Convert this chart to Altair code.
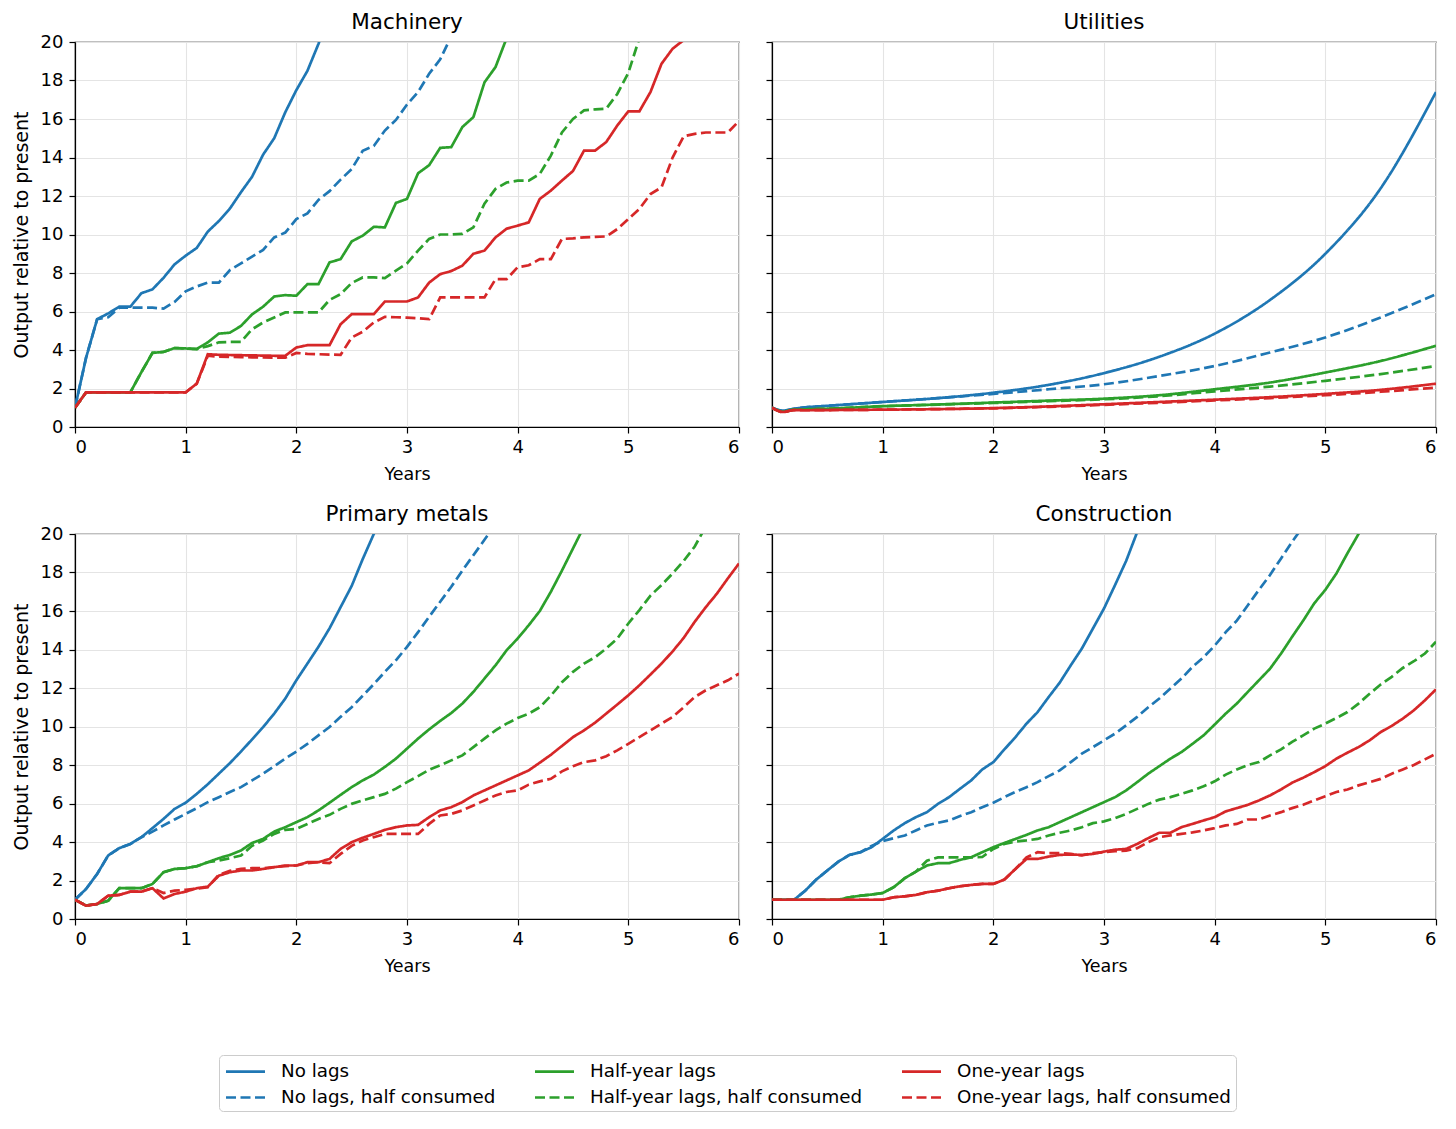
import altair as alt
import pandas as pd

FONT = "DejaVu Sans"

YEARS = [0.0, 0.1, 0.2, 0.3, 0.4, 0.5, 0.6, 0.7, 0.8, 0.9,
         1.0, 1.1, 1.2, 1.3, 1.4, 1.5, 1.6, 1.7, 1.8, 1.9,
         2.0, 2.1, 2.2, 2.3, 2.4, 2.5, 2.6, 2.7, 2.8, 2.9,
         3.0, 3.1, 3.2, 3.3, 3.4, 3.5, 3.6, 3.7, 3.8, 3.9,
         4.0, 4.1, 4.2, 4.3, 4.4, 4.5, 4.6, 4.7, 4.8, 4.9,
         5.0, 5.1, 5.2, 5.3, 5.4, 5.5, 5.6, 5.7, 5.8, 5.9, 6.0]
UTIL_YEARS = [0.0, 0.1, 0.2, 0.3, 0.5, 1.0, 1.5, 2.0, 2.5, 3.0, 3.5, 4.0, 4.5, 5.0, 5.5, 6.0]

PANELS = ["Machinery", "Utilities", "Primary metals", "Construction"]
SERIES = ["No lags", "No lags, half consumed",
          "Half-year lags", "Half-year lags, half consumed",
          "One-year lags", "One-year lags, half consumed"]
COLORS = ["#1f77b4", "#1f77b4", "#2ca02c", "#2ca02c", "#d62728", "#d62728"]
DASHES = [[1, 0], [10, 4.5], [1, 0], [10, 4.5], [1, 0], [10, 4.5]]

# ---- Machinery ----
mach_no = [1.0, 3.6, 5.6, 5.9, 6.25, 6.25, 6.95, 7.15, 7.75, 8.45,
           8.9, 9.3, 10.15, 10.7, 11.35, 12.2, 13.0, 14.15, 15.0, 16.35,
           17.5, 18.5, 19.9, 21.5]
mach_no_h = [1.0, 3.6, 5.6, 5.7, 6.2, 6.2, 6.2, 6.2, 6.15, 6.5,
             7.05, 7.3, 7.5, 7.5, 8.15, 8.5, 8.85, 9.2, 9.85, 10.1,
             10.8, 11.1, 11.8, 12.25, 12.85, 13.4, 14.35, 14.6, 15.4, 15.95,
             16.75, 17.4, 18.35, 19.1, 20.3]
mach_half = [1.0, 1.8, 1.8, 1.8, 1.8, 1.8, 2.85, 3.85, 3.9, 4.1,
             4.08, 4.05, 4.4, 4.85, 4.9, 5.25, 5.85, 6.25, 6.78, 6.85,
             6.82, 7.42, 7.42, 8.55, 8.72, 9.64, 9.94, 10.4, 10.37, 11.64,
             11.85, 13.18, 13.6, 14.5, 14.54, 15.58, 16.1, 17.9, 18.7, 20.2]
mach_half_h = [1.0, 1.8, 1.8, 1.8, 1.8, 1.8, 2.85, 3.85, 3.9, 4.1,
               4.08, 4.05, 4.2, 4.4, 4.42, 4.42, 5.08, 5.43, 5.69, 5.95,
               5.95, 5.95, 5.95, 6.6, 6.9, 7.48, 7.77, 7.77, 7.74, 8.12,
               8.5, 9.16, 9.77, 10.0, 10.0, 10.03, 10.37, 11.6, 12.37, 12.7,
               12.8, 12.8, 13.15, 14.1, 15.3, 16.0, 16.45, 16.5, 16.53, 17.3,
               18.4, 20.2]
mach_one = [1.0, 1.8, 1.8, 1.8, 1.8, 1.8, 1.8, 1.8, 1.8, 1.8,
            1.8, 2.25, 3.78, 3.75, 3.74, 3.73, 3.72, 3.71, 3.7, 3.7,
            4.13, 4.25, 4.25, 4.25, 5.34, 5.86, 5.86, 5.86, 6.52, 6.52,
            6.52, 6.73, 7.5, 7.94, 8.1, 8.38, 9.0, 9.16, 9.85, 10.3,
            10.46, 10.63, 11.85, 12.28, 12.8, 13.3, 14.36, 14.36, 14.8, 15.66,
            16.4, 16.4, 17.4, 18.87, 19.65, 20.1, 20.6]
mach_one_h = [1.0, 1.8, 1.8, 1.8, 1.8, 1.8, 1.8, 1.8, 1.8, 1.8,
              1.8, 2.25, 3.7, 3.65, 3.64, 3.63, 3.62, 3.61, 3.6, 3.6,
              3.85, 3.8, 3.78, 3.76, 3.75, 4.65, 4.95, 5.43, 5.72, 5.7,
              5.68, 5.65, 5.6, 6.73, 6.73, 6.73, 6.73, 6.73, 7.68, 7.68,
              8.3, 8.4, 8.72, 8.72, 9.77, 9.8, 9.85, 9.88, 9.9, 10.28,
              10.8, 11.33, 12.1, 12.45, 14.0, 15.1, 15.23, 15.3, 15.3, 15.3,
              15.9]

# ---- Utilities (sampled at UTIL_YEARS) ----
util_no = [1.0, 0.85, 0.95, 1.02, 1.1, 1.3, 1.5, 1.78, 2.19, 2.8, 3.65, 4.85, 6.6, 9.0, 12.4, 17.4]
util_no_h = [1.0, 0.85, 0.95, 1.02, 1.1, 1.3, 1.5, 1.72, 1.96, 2.22, 2.65, 3.17, 3.87, 4.65, 5.69, 6.9]
util_half = [1.0, 0.8, 0.9, 0.92, 0.95, 1.08, 1.17, 1.27, 1.37, 1.47, 1.65, 1.96, 2.31, 2.83, 3.43, 4.22]
util_half_h = [1.0, 0.8, 0.9, 0.92, 0.95, 1.08, 1.16, 1.25, 1.34, 1.44, 1.6, 1.85, 2.1, 2.4, 2.75, 3.17]
util_one = [1.0, 0.78, 0.88, 0.87, 0.88, 0.9, 0.93, 0.98, 1.07, 1.18, 1.3, 1.42, 1.55, 1.72, 1.93, 2.25]
util_one_h = [1.0, 0.78, 0.88, 0.87, 0.88, 0.9, 0.93, 0.97, 1.05, 1.15, 1.26, 1.38, 1.5, 1.65, 1.83, 2.05]

# ---- Primary metals ----
metal_no = [1.0, 1.56, 2.34, 3.3, 3.68, 3.9, 4.25, 4.72, 5.2, 5.72,
            6.04, 6.5, 7.0, 7.55, 8.1, 8.7, 9.33, 9.97, 10.67, 11.45,
            12.4, 13.27, 14.14, 15.1, 16.2, 17.3, 18.7, 20.0, 21.3]
metal_no_h = [1.0, 1.56, 2.34, 3.3, 3.68, 3.9, 4.25, 4.54, 4.86, 5.17,
              5.46, 5.76, 6.07, 6.33, 6.6, 6.85, 7.2, 7.55, 7.94, 8.33,
              8.7, 9.1, 9.54, 9.97, 10.5, 11.0, 11.6, 12.2, 12.84, 13.44,
              14.14, 14.9, 15.7, 16.48, 17.26, 18.1, 18.9, 19.7, 20.5]
metal_half = [1.0, 0.7, 0.78, 0.95, 1.6, 1.6, 1.6, 1.82, 2.43, 2.6,
              2.64, 2.74, 2.95, 3.16, 3.33, 3.56, 3.95, 4.16, 4.54, 4.77,
              5.03, 5.29, 5.64, 6.04, 6.45, 6.85, 7.2, 7.5, 7.9, 8.33,
              8.85, 9.37, 9.85, 10.29, 10.7, 11.19, 11.8, 12.49, 13.18, 13.96,
              14.57, 15.26, 16.0, 17.0, 18.1, 19.25, 20.4]
metal_half_h = [1.0, 0.7, 0.78, 0.95, 1.6, 1.6, 1.6, 1.82, 2.43, 2.6,
                2.64, 2.74, 2.95, 3.04, 3.16, 3.3, 3.8, 4.08, 4.42, 4.63,
                4.68, 4.94, 5.2, 5.41, 5.72, 5.98, 6.16, 6.33, 6.5, 6.77,
                7.11, 7.42, 7.75, 7.98, 8.24, 8.5, 8.93, 9.37, 9.8, 10.15,
                10.44, 10.67, 11.0, 11.6, 12.3, 12.84, 13.27, 13.6, 14.05, 14.57,
                15.35, 16.05, 16.8, 17.35, 17.95, 18.6, 19.35, 20.4]
metal_one = [1.0, 0.69, 0.78, 1.21, 1.25, 1.42, 1.42, 1.6, 1.07, 1.3,
             1.42, 1.6, 1.68, 2.25, 2.43, 2.52, 2.52, 2.6, 2.69, 2.78,
             2.78, 2.95, 2.95, 3.12, 3.64, 3.99, 4.22, 4.42, 4.63, 4.77,
             4.86, 4.89, 5.29, 5.64, 5.81, 6.07, 6.42, 6.68, 6.94, 7.2,
             7.46, 7.72, 8.12, 8.53, 8.99, 9.45, 9.8, 10.2, 10.67, 11.14,
             11.62, 12.14, 12.7, 13.27, 13.9, 14.6, 15.44, 16.2, 16.9, 17.7,
             18.47]
metal_one_h = [1.0, 0.69, 0.78, 1.21, 1.25, 1.42, 1.42, 1.6, 1.35, 1.47,
               1.52, 1.58, 1.65, 2.3, 2.5, 2.6, 2.64, 2.64, 2.7, 2.75,
               2.78, 2.9, 2.95, 2.9, 3.38, 3.8, 4.08, 4.25, 4.42, 4.42,
               4.42, 4.42, 4.94, 5.38, 5.46, 5.64, 5.9, 6.16, 6.42, 6.6,
               6.68, 6.98, 7.15, 7.28, 7.67, 7.94, 8.15, 8.24, 8.46, 8.76,
               9.1, 9.45, 9.8, 10.15, 10.5, 11.0, 11.53, 11.88, 12.14, 12.4,
               12.75]

# ---- Construction ----
cons_no = [1.0, 1.0, 1.0, 1.47, 2.05, 2.52, 2.98, 3.33, 3.47, 3.73,
           4.16, 4.6, 4.98, 5.29, 5.55, 5.98, 6.33, 6.77, 7.2, 7.77,
           8.15, 8.81, 9.45, 10.15, 10.75, 11.53, 12.28, 13.18, 14.05, 15.09,
           16.13, 17.35, 18.6, 20.1, 21.3]
cons_no_h = [1.0, 1.0, 1.0, 1.47, 2.05, 2.52, 2.98, 3.33, 3.47, 3.8,
             4.05, 4.2, 4.34, 4.6, 4.86, 5.0, 5.12, 5.35, 5.55, 5.81,
             6.04, 6.33, 6.6, 6.85, 7.11, 7.42, 7.72, 8.15, 8.59, 8.93,
             9.28, 9.63, 10.06, 10.5, 11.0, 11.45, 11.97, 12.49, 13.1, 13.6,
             14.2, 14.9, 15.5, 16.3, 17.1, 17.87, 18.73, 19.6, 20.4]
cons_half = [1.0, 1.0, 1.0, 1.0, 1.0, 1.0, 1.0, 1.13, 1.21, 1.27,
             1.35, 1.65, 2.12, 2.46, 2.78, 2.9, 2.9, 3.07, 3.21, 3.47,
             3.73, 3.95, 4.16, 4.37, 4.6, 4.77, 5.03, 5.29, 5.55, 5.81,
             6.07, 6.33, 6.68, 7.11, 7.55, 7.94, 8.33, 8.67, 9.1, 9.54,
             10.1, 10.67, 11.19, 11.8, 12.4, 13.0, 13.79, 14.66, 15.5, 16.4,
             17.1, 17.95, 19.0, 20.0, 21.2]
cons_half_h = [1.0, 1.0, 1.0, 1.0, 1.0, 1.0, 1.0, 1.13, 1.21, 1.27,
               1.35, 1.65, 2.12, 2.46, 3.03, 3.2, 3.2, 3.2, 3.2, 3.22,
               3.64, 3.9, 4.02, 4.08, 4.16, 4.34, 4.48, 4.6, 4.77, 4.98,
               5.07, 5.24, 5.46, 5.72, 5.98, 6.2, 6.33, 6.5, 6.68, 6.9,
               7.15, 7.5, 7.77, 8.0, 8.15, 8.5, 8.81, 9.2, 9.54, 9.89,
               10.15, 10.44, 10.75, 11.19, 11.7, 12.18, 12.58, 13.04, 13.39, 13.79,
               14.4]
cons_one = [1.0, 1.0, 1.0, 1.0, 1.0, 1.0, 1.0, 1.0, 1.0, 1.0,
            1.0, 1.13, 1.18, 1.25, 1.39, 1.47, 1.6, 1.7, 1.77, 1.82,
            1.82, 2.05, 2.6, 3.12, 3.12, 3.24, 3.33, 3.35, 3.33, 3.38,
            3.5, 3.6, 3.64, 3.9, 4.2, 4.48, 4.48, 4.77, 4.94, 5.12,
            5.29, 5.59, 5.76, 5.93, 6.16, 6.42, 6.73, 7.08, 7.34, 7.63,
            7.94, 8.33, 8.64, 8.93, 9.28, 9.71, 10.03, 10.41, 10.84, 11.36,
            11.93]
cons_one_h = [1.0, 1.0, 1.0, 1.0, 1.0, 1.0, 1.0, 1.0, 1.0, 1.0,
              1.0, 1.13, 1.18, 1.25, 1.39, 1.47, 1.6, 1.7, 1.77, 1.82,
              1.82, 2.05, 2.6, 3.2, 3.47, 3.42, 3.42, 3.38, 3.3, 3.42,
              3.47, 3.52, 3.55, 3.68, 3.99, 4.25, 4.34, 4.42, 4.5, 4.6,
              4.72, 4.86, 4.94, 5.17, 5.17, 5.38, 5.55, 5.76, 5.93, 6.16,
              6.38, 6.6, 6.73, 6.94, 7.11, 7.28, 7.55, 7.77, 8.0, 8.29,
              8.59]

PANEL_DATA = {
    "Machinery": (YEARS, [mach_no, mach_no_h, mach_half, mach_half_h, mach_one, mach_one_h]),
    "Utilities": (UTIL_YEARS, [util_no, util_no_h, util_half, util_half_h, util_one, util_one_h]),
    "Primary metals": (YEARS, [metal_no, metal_no_h, metal_half, metal_half_h, metal_one, metal_one_h]),
    "Construction": (YEARS, [cons_no, cons_no_h, cons_half, cons_half_h, cons_one, cons_one_h]),
}

rows = []
for pname in PANELS:
    xs, series_vals = PANEL_DATA[pname]
    for k, (sname, vals) in enumerate(zip(SERIES, series_vals)):
        for i, v in enumerate(vals):
            rows.append({"panel": pname, "series": sname, "draw": k, "year": xs[i], "value": v})
df = pd.DataFrame(rows)

# long horizontal line symbol: path spans [-2, 2] so the stroke is 2*sqrt(size) long
legend_spec = alt.Legend(
    title=None, orient="none", legendX=144, legendY=1013, columns=3,
    symbolType="M-2,0H2", symbolSize=380, symbolStrokeWidth=2.6, symbolOffset=10,
    labelFontSize=18.3, labelFont=FONT, labelColor="black", labelLimit=0,
    columnPadding=33, rowPadding=6, labelOffset=24,
    padding=5, strokeColor="#cccccc", cornerRadius=4, fillColor="white",
)


def panel(name, left, interp):
    if left:
        axis_y = alt.Axis(values=list(range(0, 21, 2)), title="Output relative to present")
    else:
        axis_y = alt.Axis(values=list(range(0, 21, 2)), labels=False, title=None)
    return (
        alt.Chart(df[df.panel == name])
        .mark_line(clip=True, strokeWidth=2.7, interpolate=interp)
        .encode(
            x=alt.X("year:Q", scale=alt.Scale(domain=[0, 6], nice=False),
                    axis=alt.Axis(values=[0, 1, 2, 3, 4, 5, 6], title="Years", format="d")),
            y=alt.Y("value:Q", scale=alt.Scale(domain=[0, 20], nice=False), axis=axis_y),
            color=alt.Color("series:N", scale=alt.Scale(domain=SERIES, range=COLORS), legend=legend_spec),
            strokeDash=alt.StrokeDash("series:N", scale=alt.Scale(domain=SERIES, range=DASHES), legend=legend_spec),
            detail="draw:N",
        )
        .properties(width=664, height=385,
                    title=alt.TitleParams(text=name, offset=0 if left else 8))
    )


top = alt.hconcat(panel("Machinery", True, "linear"), panel("Utilities", False, "monotone"), spacing=23)
bottom = alt.hconcat(panel("Primary metals", True, "linear"), panel("Construction", False, "linear"), spacing=23)

chart = (
    alt.vconcat(top, bottom, spacing=18)
    .properties(padding={"left": 3, "top": 2, "right": 5, "bottom": 5}, background="white")
    .configure_view(stroke="black", strokeWidth=1.2)
    .configure_axis(
        labelFont=FONT, titleFont=FONT, labelFontSize=18, titleFontSize=18,
        titleFontWeight="normal", labelColor="black", titleColor="black",
        domainColor="black", domainWidth=1.2, tickColor="black", tickWidth=1.2, tickSize=6,
        gridColor="#e4e4e4", gridWidth=1.1,
    )
    .configure_axisX(labelPadding=5, titlePadding=9, titleFontSize=17.5)
    .configure_axisY(labelPadding=6, titlePadding=9, titleFontSize=19)
    .configure_title(font=FONT, fontSize=21.5, fontWeight="normal", color="black", anchor="middle")
)

chart.save("out.html", embed_options={"renderer": "svg", "actions": False})
